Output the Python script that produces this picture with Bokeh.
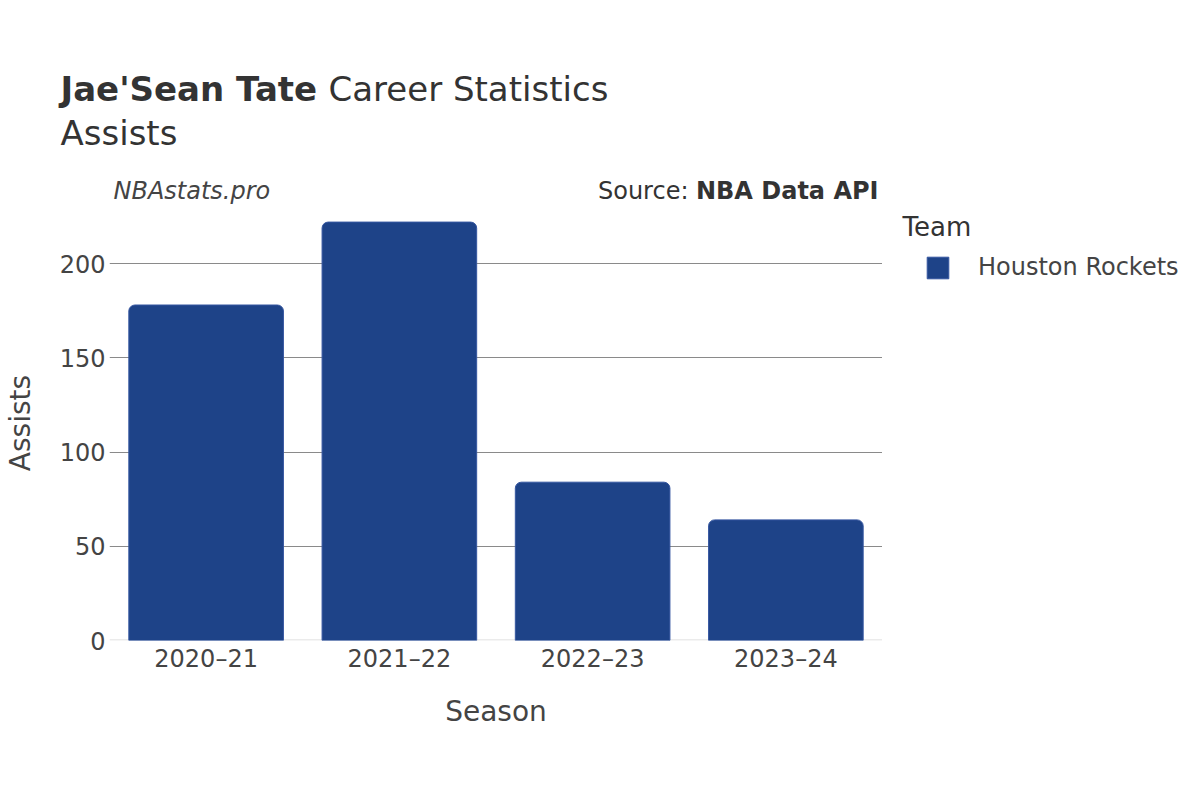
from bokeh.plotting import figure
from bokeh.layouts import column, row
from bokeh.models import (Label, Legend, LegendItem, FixedTicker, Span, FactorRange, Range1d,
                          ColumnDataSource)
from bokeh.embed import file_html
from bokeh.resources import INLINE

seasons = ["2020–21", "2021–22", "2022–23", "2023–24"]
assists = [178, 222, 84, 64]
team = "Houston Rockets"
y_ticks = [0, 50, 100, 150, 200]

FONT = "DejaVu Sans"
TXT = "#444444"
DARK = "#333333"
BAR = "#1e4388"
EDGE = "#3556a0"

TOP_H = 205          # header height (chart frame starts just below)
BODY_H = 800 - TOP_H
FRAME_BOTTOM = 640   # canvas y of the chart's baseline
BOTTOM_B = 800 - FRAME_BOTTOM


def blank(fig):
    fig.outline_line_color = None
    fig.axis.visible = False
    fig.grid.grid_line_color = None
    fig.border_fill_color = "white"
    fig.background_fill_color = "white"


def lab(fig, text, x, y, size, style="normal", align="left", color=DARK):
    fig.add_layout(Label(x=x, y=y, x_units="screen", y_units="screen", text=text,
                         text_font=FONT, text_font_size=size, text_font_style=style,
                         text_align=align, text_baseline="middle", text_color=color))


# ---------- header (titles + annotations) ----------
top = figure(width=1200, height=TOP_H, x_range=Range1d(0, 1), y_range=Range1d(0, 1),
             output_backend="svg", toolbar_location=None,
             min_border_left=0, min_border_right=0, min_border_top=0, min_border_bottom=0)
blank(top)
lab(top, "Jae'Sean Tate", 60, TOP_H - 88, "34px", "bold")
lab(top, "Career Statistics", 328, TOP_H - 88, "34px")
lab(top, "Assists", 60, TOP_H - 132, "34px")
lab(top, "NBAstats.pro", 113, TOP_H - 190, "24px", "italic", color=TXT)
lab(top, "NBA Data API", 878, TOP_H - 190, "24px", "bold", align="right", color=DARK)
lab(top, "Source:", 688, TOP_H - 190, "24px", align="right", color=DARK)

# ---------- main chart ----------
p = figure(width=882, height=BODY_H, x_range=FactorRange(*seasons, range_padding=0),
           y_range=Range1d(0, 230.8), output_backend="svg", toolbar_location=None,
           min_border_left=108, min_border_right=0, min_border_top=0, min_border_bottom=BOTTOM_B)
p.outline_line_color = None
p.background_fill_color = "white"
p.border_fill_color = "white"

p.add_layout(Span(location=0, dimension="width", line_color="#ebebeb", line_width=3, level="underlay"))
p.vbar(x=seasons, top=assists, width=0.8, fill_color=BAR, line_color=EDGE,
       line_width=1, border_radius=(6, 6, 0, 0))

p.xgrid.grid_line_color = None
p.ygrid.ticker = FixedTicker(ticks=y_ticks[1:])
p.ygrid.grid_line_color = "#8a8a8a"
p.ygrid.grid_line_width = 1

for ax in (p.xaxis[0], p.yaxis[0]):
    ax.axis_line_color = None
    ax.major_tick_line_color = None
    ax.minor_tick_line_color = None
    ax.major_tick_out = 0
    ax.major_tick_in = 0
    ax.minor_tick_out = 0
    ax.minor_tick_in = 0
    ax.major_label_text_font = FONT
    ax.major_label_text_font_size = "24px"
    ax.major_label_text_color = TXT
    ax.axis_label_text_font = FONT
    ax.axis_label_text_font_size = "28px"
    ax.axis_label_text_font_style = "normal"
    ax.axis_label_text_color = TXT

p.yaxis.ticker = FixedTicker(ticks=y_ticks)
p.yaxis.axis_label = "Assists"
p.yaxis.major_label_standoff = 4
p.yaxis.axis_label_standoff = 20
p.xaxis.axis_label = "Season"
p.xaxis.major_label_standoff = 4
p.xaxis.axis_label_standoff = 19

# ---------- legend panel ----------
leg = figure(width=318, height=BODY_H, x_range=Range1d(0, 1), y_range=Range1d(0, 1),
             output_backend="svg", toolbar_location=None,
             min_border_left=0, min_border_right=0, min_border_top=0, min_border_bottom=BOTTOM_B)
blank(leg)
hidden = ColumnDataSource(data=dict(x=[5], top=[5]))
lr = leg.vbar(x="x", top="top", bottom=4, width=0.8, source=hidden, fill_color=BAR,
              line_color=EDGE, line_width=1, border_radius=4)
lab(leg, "Team", 902 - 882, FRAME_BOTTOM - 226, "26px", color=DARK)
legend = Legend(items=[LegendItem(label=team, renderers=[lr])],
                location=(924 - 882, FRAME_BOTTOM - 281),
                padding=0, margin=0, border_line_color=None, background_fill_alpha=0,
                glyph_width=27, glyph_height=27, label_standoff=27,
                label_text_font=FONT, label_text_font_size="24px", label_text_color=TXT)
leg.add_layout(legend)

layout = column(top, row(p, leg, spacing=0), spacing=0)

open("out.html", "w").write(file_html(layout, INLINE))
